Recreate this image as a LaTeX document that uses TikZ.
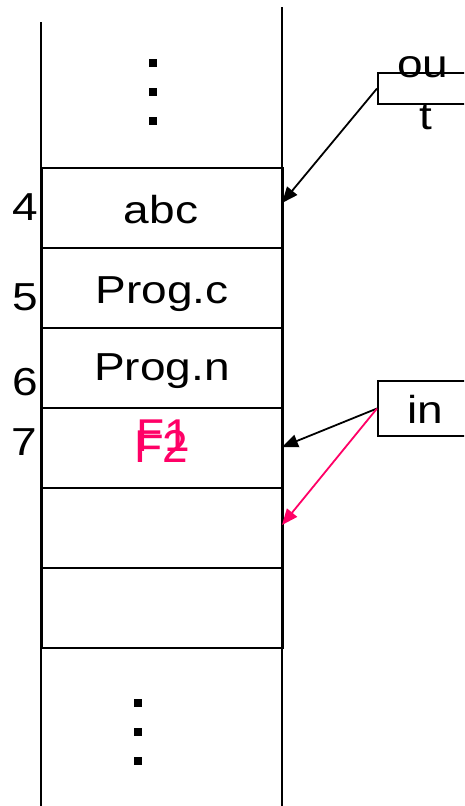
\documentclass[tikz,border=0pt]{standalone}
\usepackage{fontspec}
\setmainfont{Liberation Sans}
\usetikzlibrary{arrows.meta}
\definecolor{memred}{RGB}{255,0,102}
% text in this figure is set slightly wider than the font's natural width
\newcommand\widetxt[1]{\scalebox{1.18}[1]{#1}}
\begin{document}
\begin{tikzpicture}[x=1pt, y=-1pt,
  colline/.style={line width=2.4pt},
  cell/.style={draw, line width=2.4pt, minimum width=241pt, minimum height=80pt,
               inner sep=0pt, anchor=north west},
  lbl/.style={anchor=base, inner sep=0pt, font=\fontsize{39}{47}\selectfont},
  flbl/.style={anchor=base, inner sep=0pt, text=memred, font=\fontsize{46}{52}\selectfont},
  ptrbox/.style={draw, line width=2pt, minimum width=100pt, inner sep=0pt, anchor=north west},
  ptr/.style={line width=1.8pt, -{Triangle[length=16pt,width=13pt]}},
  dotsq/.style={fill, minimum size=8pt, inner sep=0pt}]
  \useasboundingbox (0,0) rectangle (464,806);
  \clip (0,0) rectangle (464,806);

  % memory column
  \draw[colline] (41,22) -- (41,806);
  \draw[colline] (282,7) -- (282,806);

  \node[cell] (c4) at (41,167) {};
  \node[cell] (c5) at (41,247) {};
  \node[cell] (c6) at (41,327) {};
  \node[cell] (c7) at (41,407) {};
  \node[cell] (c8) at (41,487) {};
  \node[cell] (c9) at (41,567) {};

  % ellipsis dots above and below the table
  \node[dotsq] (u1) at (153,63) {};
  \node[dotsq] (u2) at (153,92) {};
  \node[dotsq] (u3) at (153,121) {};
  \node[dotsq] (b1) at (138,703) {};
  \node[dotsq] (b2) at (138,732) {};
  \node[dotsq] (b3) at (138,761) {};

  % cell contents
  \node[lbl] (abc) at (161,223) {\widetxt{abc}};
  \node[lbl] (progc) at (162,303) {\widetxt{Prog.c}};
  \node[lbl] (progn) at (162,380) {\widetxt{Prog.n}};
  \node[flbl] (f1) at (163,451) {F1};
  \node[flbl] (f2) at (161,462) {F2};

  % slot indices
  \node[lbl] (n4) at (25,220) {\widetxt{4}};
  \node[lbl] (n5) at (25,310) {\widetxt{5}};
  \node[lbl] (n6) at (25,395) {\widetxt{6}};
  \node[lbl] (n7) at (24,455) {\widetxt{7}};

  % file pointers
  \node[ptrbox, minimum height=31pt] (outbox) at (377,72) {};
  \node[lbl] (outa) at (423,77) {\widetxt{ou}};
  \node[lbl] (outb) at (426,129) {\widetxt{t}};
  \node[ptrbox, minimum height=55pt] (inbox) at (377,380) {};
  \node[lbl] (intxt) at (425,423) {\widetxt{in}};

  \coordinate (p4) at (282,203);
  \coordinate (p7) at (282,447);
  \coordinate (p8) at (282,525);
  \draw[ptr] (outbox.west) -- (p4);
  \draw[ptr] (inbox.west) -- (p7);
  \draw[ptr, memred] (inbox.west) -- (p8);
\end{tikzpicture}
\end{document}
